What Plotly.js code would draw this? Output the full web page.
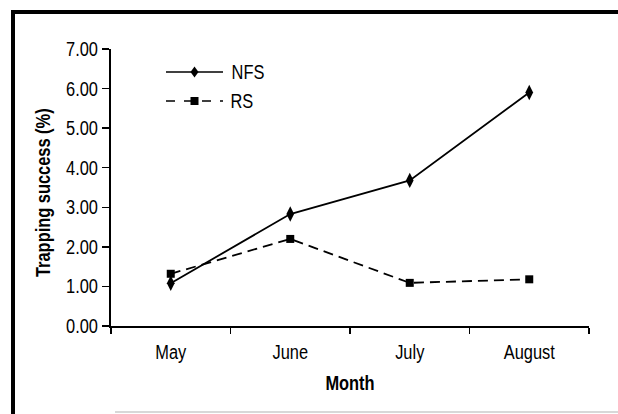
<!DOCTYPE html>
<html>
<head>
<meta charset="utf-8">
<script src="https://cdn.plot.ly/plotly-3.0.1.min.js"></script>
<style>
  html, body { margin: 0; padding: 0; background: #fff; }
  #wrap { position: relative; width: 618px; height: 414px; overflow: hidden; }
  #chart { position: absolute; left: 0; top: 0; width: 618px; height: 414px; }
  #frame { position: absolute; left: 11px; top: 10px; width: 620px; height: 420px;
           border-left: 4px solid #000; border-top: 4px solid #000; pointer-events: none; }
  #bottomline { position: absolute; left: 115px; top: 411px; width: 503px; height: 2px;
                background: #d8d8d8; pointer-events: none; }
</style>
</head>
<body>
<div id="wrap">
  <div id="chart"></div>
  <div id="frame"></div>
  <div id="bottomline"></div>
</div>
<script>
// ---- data ----
var months = ["May", "June", "July", "August"];
var seriesNames = ["NFS", "RS"];
var nfsValues = [1.08, 2.83, 3.68, 5.90];
var rsValues = [1.32, 2.20, 1.09, 1.18];
var yTickValues = [0, 1, 2, 3, 4, 5, 6, 7];
var xTitle = "Month";
var yTitle = "Trapping success (%)";

var FONT = '"Liberation Sans", Arial, sans-serif';
var NARROW = 0.82; // horizontal squeeze to imitate a narrow face

// plot area in pixels (for legend placement helpers)
var W = 618, H = 414, L = 111, R = 29, T = 49, B = 88;
var pw = W - L - R, ph = H - T - B;
function px2x(px) { return (px - L) / pw; }
function py2y(py) { return (H - B - py) / ph; }

var traces = [
  {
    x: months, y: nfsValues, name: seriesNames[0], type: "scatter", mode: "lines+markers",
    line: { color: "#000", width: 1.8 },
    marker: { symbol: "diamond-tall", size: 11, color: "#000" },
    showlegend: false
  },
  {
    x: months, y: rsValues, name: seriesNames[1], type: "scatter", mode: "lines+markers",
    line: { color: "#000", width: 1.8, dash: "10px,6px" },
    marker: { symbol: "square", size: 8, color: "#000" },
    showlegend: false
  }
];

// custom legend (line sample longer than plotly's native one)
var shapes = [];
var annotations = [];
var legendRows = [72, 101];
var legendDash = ["solid", "dash"];
for (var i = 0; i < seriesNames.length; i++) {
  var yy = py2y(legendRows[i]);
  shapes.push({
    type: "line", xref: "paper", yref: "paper",
    x0: px2x(166), x1: px2x(223), y0: yy, y1: yy,
    line: { color: "#000", width: 1.6, dash: legendDash[i] }
  });
  var cx = px2x(194.5);
  if (i === 0) {
    var hx = 4 / pw, hy = 5.5 / ph;
    shapes.push({
      type: "path", xref: "paper", yref: "paper",
      path: "M" + (cx - hx) + "," + yy + " L" + cx + "," + (yy + hy) + " L" + (cx + hx) + "," + yy + " L" + cx + "," + (yy - hy) + " Z",
      fillcolor: "#000", line: { color: "#000", width: 0 }
    });
  } else {
    var sx = 4 / pw, sy = 4 / ph;
    shapes.push({
      type: "rect", xref: "paper", yref: "paper",
      x0: cx - sx, x1: cx + sx, y0: yy - sy, y1: yy + sy,
      fillcolor: "#000", line: { color: "#000", width: 0 }
    });
  }
  annotations.push({
    xref: "paper", yref: "paper", x: px2x(226), y: yy,
    xanchor: "left", yanchor: "middle", showarrow: false,
    text: seriesNames[i], font: { family: FONT, size: 20, color: "#000" }
  });
}
// y axis title, placed as in the reference (slightly below the plot centre)
annotations.push({
  xref: "paper", yref: "paper", x: px2x(42), y: py2y(192.5),
  xanchor: "center", yanchor: "middle", showarrow: false, textangle: -90,
  text: "<b>" + yTitle + "</b>", font: { family: FONT, size: 20, color: "#000" }
});

var layout = {
  width: W, height: H,
  margin: { l: L, r: R, t: T, b: B, pad: 0 },
  paper_bgcolor: "#fff", plot_bgcolor: "#fff",
  font: { family: FONT, size: 20, color: "#000" },
  showlegend: false,
  xaxis: {
    type: "category", categoryarray: months, range: [-0.5, 3.5],
    showline: true, linecolor: "#000", linewidth: 2,
    ticks: "outside", tickson: "boundaries", ticklen: 6, tickwidth: 1.5, tickcolor: "#000",
    ticklabelstandoff: 7,
    showgrid: false, zeroline: false,
    tickfont: { family: FONT, size: 20, color: "#000" },
    title: { text: "<b>" + xTitle + "</b>", font: { family: FONT, size: 20, color: "#000" }, standoff: 14 },
    fixedrange: true
  },
  yaxis: {
    range: [0, 7], tickvals: yTickValues, tickformat: ".2f",
    showline: true, linecolor: "#000", linewidth: 2,
    ticks: "outside", ticklen: 7, tickwidth: 1.5, tickcolor: "#000",
    showgrid: false, zeroline: false,
    tickfont: { family: FONT, size: 20, color: "#000" },
    fixedrange: true
  },
  shapes: shapes,
  annotations: annotations
};

Plotly.newPlot("chart", traces, layout, { displayModeBar: false, staticPlot: true }).then(function () {
  var texts = document.querySelectorAll("#chart svg text");
  texts.forEach(function (el) {
    var len = el.getComputedTextLength();
    if (len > 0) {
      el.setAttribute("textLength", (len * NARROW).toFixed(2));
      el.setAttribute("lengthAdjust", "spacingAndGlyphs");
    }
  });
});
</script>
</body>
</html>
